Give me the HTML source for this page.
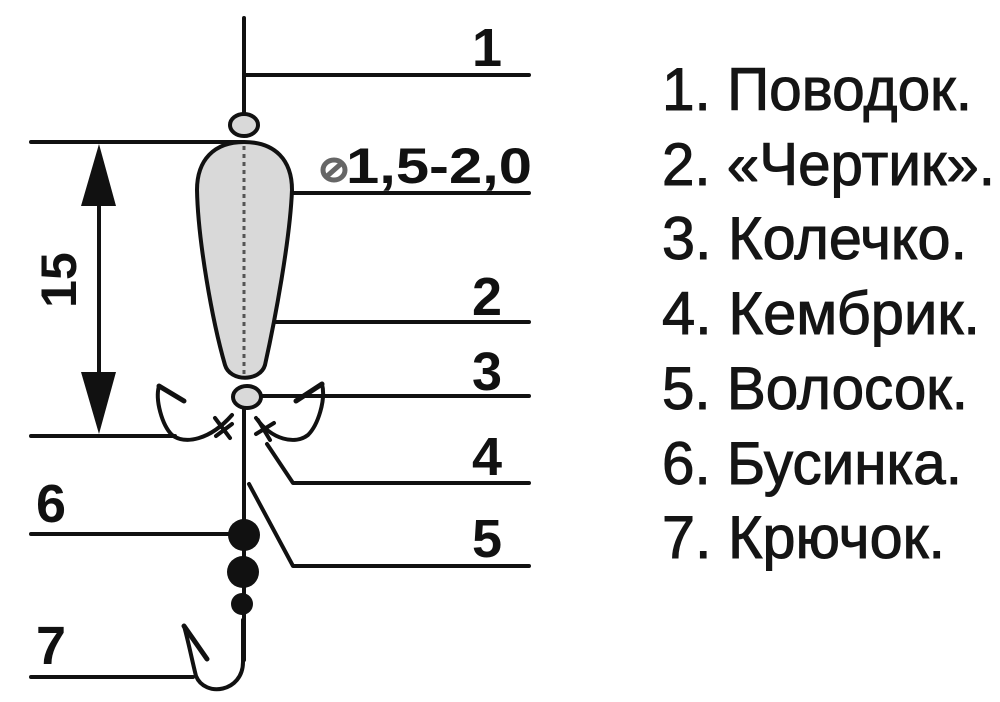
<!DOCTYPE html>
<html><head><meta charset="utf-8"><style>html,body{margin:0;padding:0;background:#fff}svg{display:block}</style></head>
<body>
<svg width="1000" height="702" viewBox="0 0 1000 702" xmlns="http://www.w3.org/2000/svg">
<rect width="1000" height="702" fill="#fff"/>
<g stroke="#111" stroke-width="4" fill="none" stroke-linecap="round" stroke-linejoin="round">
<line x1="244" y1="18" x2="244" y2="116"/>
<line x1="244" y1="75" x2="529" y2="75"/>
<line x1="31" y1="142" x2="244" y2="142"/>
<line x1="31" y1="436" x2="175" y2="436"/>
<line x1="99" y1="190" x2="99" y2="390"/>
<line x1="292" y1="193" x2="529" y2="193"/>
<line x1="276" y1="322" x2="529" y2="322"/>
<line x1="258" y1="396" x2="529" y2="396"/>
<polyline points="267,444 293,483 529,483"/>
<polyline points="249,484 293,566 529,566"/>
<line x1="31" y1="534" x2="230" y2="534"/>
<line x1="31" y1="677" x2="193" y2="677"/>
<line x1="244" y1="405" x2="244" y2="660"/>
<path d="M243,620 L243,662 C243,692 205,698 196,676 C192,660 188,640 184,626"/>
<path d="M184,626 L207,659" stroke-width="5"/>
<path d="M159,386 C155,400 162,425 172,435 C185,445 210,440 232,415"/>
<path d="M159,386 L184,401" stroke-width="5"/>
<path d="M322,384 C326,400 318,425 308,435 C295,445 272,440 256,418"/>
<path d="M322,384 L296,401" stroke-width="5"/>
<line x1="215" y1="418" x2="230" y2="438"/>
<line x1="216" y1="436" x2="232" y2="424"/>
<line x1="258" y1="420" x2="270" y2="440"/>
<line x1="256" y1="434" x2="274" y2="423"/>
</g>
<polygon points="99,144 81,206 116,206" fill="#111"/>
<polygon points="99,434 81,372 116,372" fill="#111"/>
<path d="M244,142 C275,142 292,160 292,190 C290,240 275,320 265,365 C260,382 230,382 225,365 C212,320 198,240 197,190 C197,160 214,142 244,142 Z" fill="#d9d9d9" stroke="#111" stroke-width="4"/>
<line x1="244" y1="146" x2="244" y2="378" stroke="#555" stroke-width="3" stroke-dasharray="4,4"/>
<ellipse cx="244" cy="125" rx="14" ry="11" fill="#d9d9d9" stroke="#111" stroke-width="4"/>
<ellipse cx="247" cy="397" rx="14" ry="11" fill="#d9d9d9" stroke="#111" stroke-width="4"/>
<circle cx="244" cy="535" r="16" fill="#111"/>
<circle cx="243" cy="572" r="16" fill="#111"/>
<circle cx="242" cy="604" r="11" fill="#111"/>
<g font-family="Liberation Sans, sans-serif" font-weight="bold" font-size="54" fill="#111">
<text x="472" y="66">1</text>
<text x="472" y="315">2</text>
<text x="472" y="390">3</text>
<text x="472" y="475">4</text>
<text x="472" y="557">5</text>
<text x="36" y="522">6</text>
<text x="36" y="664">7</text>
<text x="346" y="183" textLength="186" lengthAdjust="spacingAndGlyphs" font-size="50">1,5-2,0</text>
<text transform="translate(76,280) rotate(-90)" text-anchor="middle" font-size="50">15</text>
</g>
<g fill="none" stroke="#666" stroke-width="5"><ellipse cx="334" cy="170" rx="11" ry="10"/><line x1="325" y1="178" x2="343" y2="162"/></g>
<g font-family="Liberation Sans, sans-serif" font-size="60" fill="#151515" stroke="#151515" stroke-width="1">
<text x="662" y="110" textLength="310" lengthAdjust="spacingAndGlyphs">1. Поводок.</text>
<text x="662" y="185" textLength="333" lengthAdjust="spacingAndGlyphs">2. «Чертик».</text>
<text x="662" y="259" textLength="305" lengthAdjust="spacingAndGlyphs">3. Колечко.</text>
<text x="662" y="334" textLength="318" lengthAdjust="spacingAndGlyphs">4. Кембрик.</text>
<text x="662" y="409" textLength="306" lengthAdjust="spacingAndGlyphs">5. Волосок.</text>
<text x="662" y="484" textLength="300" lengthAdjust="spacingAndGlyphs">6. Бусинка.</text>
<text x="662" y="558" textLength="283" lengthAdjust="spacingAndGlyphs">7. Крючок.</text>
</g>
</svg>
</body></html>
